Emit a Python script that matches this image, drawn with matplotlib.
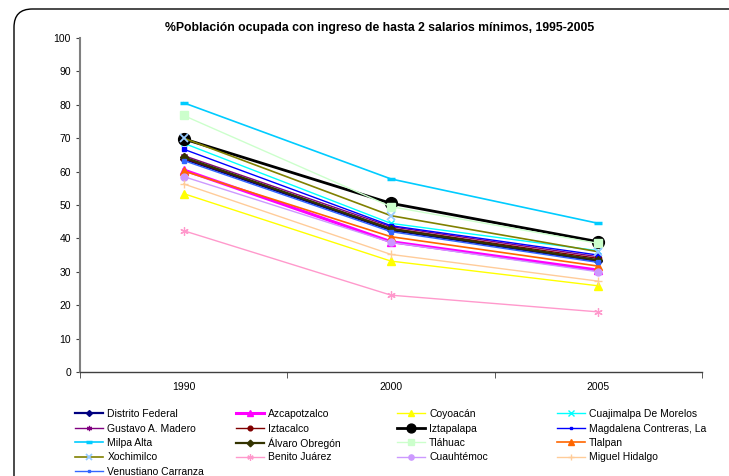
import matplotlib
matplotlib.use("Agg")
import matplotlib.pyplot as plt
from matplotlib.patches import FancyBboxPatch

plt.rcParams['font.family'] = ['Liberation Sans', 'DejaVu Sans']

years = ["1990", "2000", "2005"]

distrito_federal = [63.8, 42.5, 33.2]
azcapotzalco = [60.5, 39.0, 30.5]
coyoacan = [53.4, 33.2, 25.8]
cuajimalpa = [68.5, 44.5, 36.3]
gustavo_madero = [64.8, 43.5, 34.5]
iztacalco = [64.0, 43.0, 34.0]
iztapalapa = [69.8, 50.5, 39.0]
magdalena_contreras = [66.7, 43.8, 35.0]
milpa_alta = [80.6, 57.8, 44.5]
alvaro_obregon = [64.3, 42.8, 33.5]
tlahuac = [76.8, 49.5, 38.5]
tlalpan = [60.2, 40.5, 31.7]
xochimilco = [70.0, 46.8, 36.0]
benito_juarez = [42.3, 23.0, 18.0]
cuauhtemoc = [58.5, 38.8, 30.0]
miguel_hidalgo = [56.3, 35.2, 27.2]
venustiano_carranza = [63.3, 42.0, 32.8]

series = [
    ("Distrito Federal", distrito_federal, dict(color="#000080", marker="D", ms=4, lw=1.6)),
    ("Azcapotzalco", azcapotzalco, dict(color="#FF00FF", marker="^", ms=5.5, lw=2.2)),
    ("Coyoacán", coyoacan, dict(color="#FFFF00", marker="^", ms=5.5, lw=1.0)),
    ("Cuajimalpa De Morelos", cuajimalpa, dict(color="#00FFFF", marker="x", ms=5, lw=1.0, mew=1.0)),
    ("Gustavo A. Madero", gustavo_madero, dict(color="#800080", marker=(6, 2, 0), ms=5, lw=1.0, mew=0.9)),
    ("Iztacalco", iztacalco, dict(color="#800000", marker="o", ms=4.5, lw=1.0)),
    ("Iztapalapa", iztapalapa, dict(color="#000000", marker="o", ms=8.5, lw=2.0)),
    ("Magdalena Contreras, La", magdalena_contreras, dict(color="#0000FF", marker="s", ms=2.5, lw=1.0)),
    ("Milpa Alta", milpa_alta, dict(color="#00CCFF", marker="_", ms=6, lw=1.2, mew=2.5)),
    ("Álvaro Obregón", alvaro_obregon, dict(color="#333300", marker="D", ms=4.5, lw=1.6)),
    ("Tláhuac", tlahuac, dict(color="#CCFFCC", marker="s", ms=5.5, lw=1.0)),
    ("Tlalpan", tlalpan, dict(color="#FF6600", marker="^", ms=5.5, lw=1.2)),
    ("Xochimilco", xochimilco, dict(color="#808000", marker="x", ms=6, lw=1.2, mec="#99CCFF", mew=1.3)),
    ("Benito Juárez", benito_juarez, dict(color="#FF99CC", marker=(6, 2, 0), ms=6, lw=1.0, mew=0.9)),
    ("Cuauhtémoc", cuauhtemoc, dict(color="#CC99FF", marker="o", ms=5, lw=1.0)),
    ("Miguel Hidalgo", miguel_hidalgo, dict(color="#FFCC99", marker="+", ms=6, lw=1.0, mew=1.0)),
    ("Venustiano Carranza", venustiano_carranza, dict(color="#3366FF", marker="s", ms=2.5, lw=1.0)),
]

fig = plt.figure(figsize=(7.29, 4.76), dpi=100)
W, H = 729, 476

# rounded chart border
border = FancyBboxPatch((14 / W, -0.05), 1.1, 1 - 9 / H + 0.05,
                        boxstyle="round,pad=0,rounding_size=0.025",
                        transform=fig.transFigure, fill=False,
                        edgecolor="black", lw=1.0, mutation_aspect=W / H)
fig.patches.append(border)

ax = fig.add_axes([80 / W, 1 - 372 / H, (702 - 80) / W, (372 - 38) / H])

x = list(range(len(years)))
handles = []
for name, vals, st in series:
    kw = dict(st)
    lw = kw.pop("lw")
    ms = kw.pop("ms")
    h, = ax.plot(x, vals, linewidth=lw, markersize=ms, label=name,
                 clip_on=False, **kw)
    handles.append(h)

ax.set_xlim(-0.5, len(years) - 0.5)
ax.set_ylim(0, 100)
ax.set_yticks(range(0, 101, 10))
ax.set_xticks(x)
ax.set_xticklabels(years)
ax.set_xticks([-0.5, 0.5, 1.5, 2.5], minor=True)
ax.tick_params(axis="x", which="major", length=0, labelsize=7.5, pad=7)
ax.tick_params(axis="x", which="minor", length=4, direction="out", color="#404040")
ax.tick_params(axis="y", length=3, direction="out", labelsize=7.5, color="#404040")

for s in ("top", "right"):
    ax.spines[s].set_visible(False)
ax.spines["left"].set_color("#808080")
ax.spines["left"].set_linewidth(1.5)
ax.spines["bottom"].set_color("#404040")
ax.spines["bottom"].set_linewidth(1.0)

fig.text(380 / W, 1 - 28 / H,
         "%Población ocupada con ingreso de hasta 2 salarios mínimos, 1995-2005",
         ha="center", va="center", fontsize=8.8, fontweight="bold")

# legend: entries read across rows on an even grid
ncol = 4
col_x = [75, 236, 397, 557]
row_y0, row_dy = 414, 14.5
for i, h in enumerate(handles):
    r, c = divmod(i, ncol)
    leg = fig.legend([h], [series[i][0]],
                     loc="center left",
                     bbox_to_anchor=(col_x[c] / W, 1 - (row_y0 + r * row_dy) / H),
                     frameon=False, fontsize=7.5, handlelength=2.7, handletextpad=0.4,
                     borderaxespad=0, borderpad=0, markerscale=0.75)

fig.savefig("out.png", dpi=100)
